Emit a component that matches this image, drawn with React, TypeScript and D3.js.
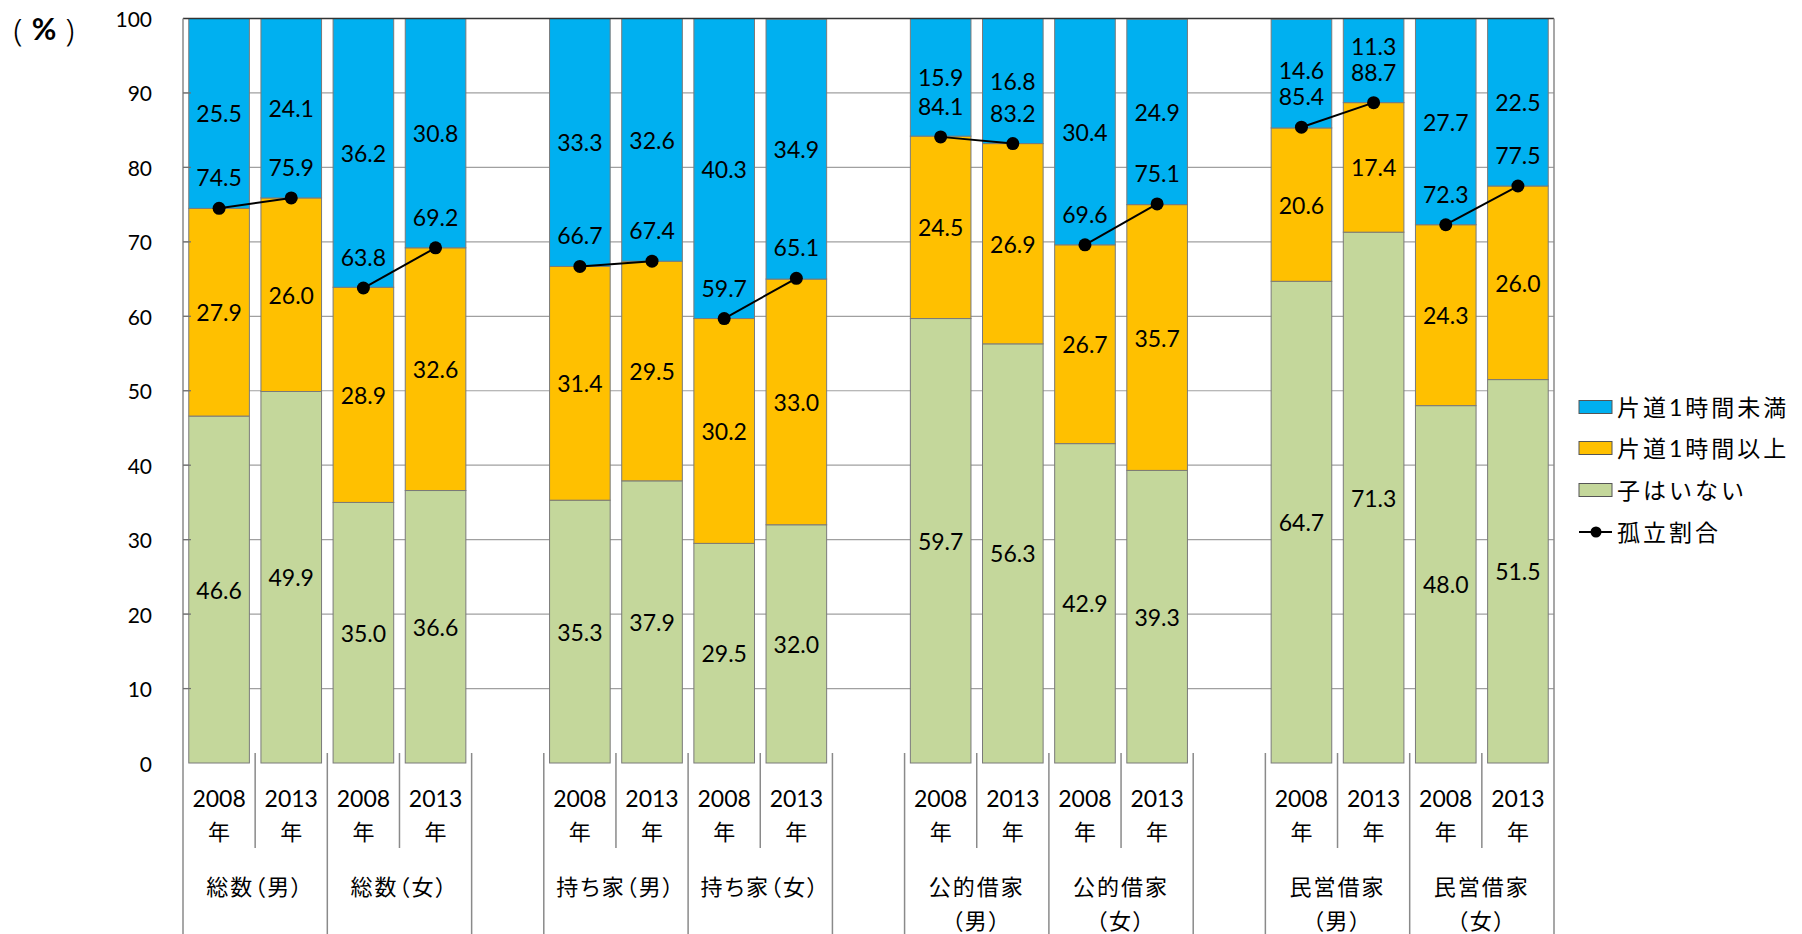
import React from "react";
import * as d3 from "d3";

const housingTypes = ["総数", "持ち家", "公的借家", "民営借家"];
const groupLabels: string[][] = [
  ["総数（男）"], ["総数（女）"], ["持ち家（男）"], ["持ち家（女）"],
  ["公的借家", "（男）"], ["公的借家", "（女）"], ["民営借家", "（男）"], ["民営借家", "（女）"],
];
const years = ["2008", "2013"];
const noChild = [46.6, 49.9, 35.0, 36.6, 35.3, 37.9, 29.5, 32.0, 59.7, 56.3, 42.9, 39.3, 64.7, 71.3, 48.0, 51.5];
const overHour = [27.9, 26.0, 28.9, 32.6, 31.4, 29.5, 30.2, 33.0, 24.5, 26.9, 26.7, 35.7, 20.6, 17.4, 24.3, 26.0];
const underHour = [25.5, 24.1, 36.2, 30.8, 33.3, 32.6, 40.3, 34.9, 15.9, 16.8, 30.4, 24.9, 14.6, 11.3, 27.7, 22.5];
const isolation = [74.5, 75.9, 63.8, 69.2, 66.7, 67.4, 59.7, 65.1, 84.1, 83.2, 69.6, 75.1, 85.4, 88.7, 72.3, 77.5];
const yTicks = [0, 10, 20, 30, 40, 50, 60, 70, 80, 90, 100];
const seriesKeys = ["noChild", "overHour", "underHour"];
const seriesNames: Record<string, string> = { underHour: "片道1時間未満", overHour: "片道1時間以上", noChild: "子はいない" };
const lineName = "孤立割合";
const colors: Record<string, string> = { underHour: "#00B0F0", overHour: "#FFC000", noChild: "#C4D79B" };

const W = 1802, H = 934;
const PL = 183, PR = 1554, PT = 18.5, PB = 763;
const NUM = "Lato, 'Noto Sans CJK JP', sans-serif";
const CJK = "'Noto Sans CJK JP', sans-serif";
const LINE_LABEL_OFFSET = 31;

export default function App() {
  const nBars = noChild.length;
  const slots: string[] = [];
  housingTypes.forEach((_, h) => {
    for (let j = 0; j < 4; j++) slots.push("b" + (h * 4 + j));
    if (h < housingTypes.length - 1) slots.push("s" + h);
  });
  const x = d3.scaleBand<string>().domain(slots).range([PL, PR]).paddingInner(0).paddingOuter(0);
  const bw = x.bandwidth();
  const barW = bw * 0.84;
  const y = d3.scaleLinear().domain([0, 100]).range([PB, PT]);

  const rows = d3.range(nBars).map((i) => ({ noChild: noChild[i], overHour: overHour[i], underHour: underHour[i] }));
  const stacked = d3.stack<any>().keys(seriesKeys)(rows);
  const cx = (i: number) => (x("b" + i) as number) + bw / 2;

  const line = d3.line<number>().x((i) => cx(i)).y((i) => y(isolation[i]));

  const boundaries = d3.range(slots.length + 1).map((k) => {
    const bx = PL + k * bw;
    const left = slots[k - 1], right = slots[k];
    let short = false;
    if (left && right && left[0] === "b" && right[0] === "b") {
      const li = +left.slice(1), ri = +right.slice(1);
      if (Math.floor(li / 2) === Math.floor(ri / 2)) short = true;
    }
    return { bx, short, edge: k === 0 || k === slots.length };
  });

  const labelY = (key: string, d: any, i: number) => {
    const c = y((d[0] + Math.min(d[1], 100)) / 2);
    if (key === "underHour") {
      const ll = y(isolation[i]) - LINE_LABEL_OFFSET;
      return Math.min(c, ll - 26);
    }
    return c;
  };

  const legendItems = ["underHour", "overHour", "noChild"];
  const legendY = [407, 448, 490];

  return (
    <svg width={W} height={H} style={{ position: "absolute", left: 0, top: 0, background: "#fff" }}>
      <rect x={0} y={0} width={W} height={H} fill="#fff" />
      {yTicks.filter((t) => t > 0 && t < 100).map((t) => (
        <line key={t} x1={PL} x2={PR} y1={y(t)} y2={y(t)} stroke="#a0a0a0" strokeWidth={1.2} />
      ))}
      {yTicks.map((t) => (
        <text key={"yl" + t} x={152} y={y(t)} textAnchor="end" dominantBaseline="central" fontFamily={NUM} fontSize={21} fill="#000">{t}</text>
      ))}
      <text y={28} dominantBaseline="central" fontSize={32} fill="#000" textAnchor="middle">
        <tspan x={18} fontFamily="'Noto Sans', sans-serif" fontWeight={300}>(</tspan>
        <tspan x={44} fontFamily={NUM} fontWeight="bold" fontSize={30}>%</tspan>
        <tspan x={70} fontFamily="'Noto Sans', sans-serif" fontWeight={300}>)</tspan>
      </text>
      {stacked.map((s) => (
        <g key={s.key}>
          {s.map((d, i) => (
            <rect key={i} x={cx(i) - barW / 2} width={barW} y={y(Math.min(d[1], 100))} height={y(d[0]) - y(Math.min(d[1], 100))}
              fill={colors[s.key]} stroke="#7a7a7a" strokeWidth={1} />
          ))}
        </g>
      ))}
      {stacked.map((s) => (
        <g key={"l" + s.key}>
          {s.map((d, i) => (
            <text key={i} x={cx(i)} y={labelY(s.key, d, i)} textAnchor="middle" dominantBaseline="central"
              fontFamily={NUM} fontSize={23} fill="#000">{(d[1] - d[0]).toFixed(1)}</text>
          ))}
        </g>
      ))}
      {d3.range(nBars / 2).map((g) => (
        <path key={"ln" + g} d={line([2 * g, 2 * g + 1]) || ""} fill="none" stroke="#000" strokeWidth={2} />
      ))}
      {isolation.map((v, i) => (
        <g key={"pt" + i}>
          <circle cx={cx(i)} cy={y(v)} r={6.5} fill="#000" />
          <text x={cx(i)} y={y(v) - LINE_LABEL_OFFSET} textAnchor="middle" dominantBaseline="central" fontFamily={NUM} fontSize={23} fill="#000">{v.toFixed(1)}</text>
        </g>
      ))}
      <line x1={PL} x2={PR} y1={PT} y2={PT} stroke="#333" strokeWidth={1.5} />
      {boundaries.map((b, k) => (
        <line key={"bd" + k} x1={b.bx} x2={b.bx} y1={b.edge ? PT : 753} y2={b.short ? 848 : H} stroke="#8a8a8a" strokeWidth={1.5} />
      ))}
      {yTicks.filter((t) => t > 0 && t < 100).map((t) => (
        <line key={"yt" + t} x1={PL} x2={PL + 8} y1={y(t)} y2={y(t)} stroke="#707070" strokeWidth={1.2} />
      ))}
      {d3.range(nBars).map((i) => (
        <g key={"yr" + i}>
          <text x={cx(i)} y={798} textAnchor="middle" dominantBaseline="central" fontFamily={NUM} fontSize={23} fill="#000">{years[i % 2]}</text>
          <text x={cx(i)} y={830} textAnchor="middle" dominantBaseline="central" fontFamily={CJK} fontSize={22} fill="#000">年</text>
        </g>
      ))}
      {groupLabels.map((lines, g) => {
        const gx = (cx(2 * g) + cx(2 * g + 1)) / 2;
        return lines.map((t, j) => (
          <text key={"gl" + g + "-" + j} x={gx} y={885 + j * 34} textAnchor="middle" dominantBaseline="central"
            fontFamily={CJK} fontSize={22} letterSpacing={2} style={{ fontFeatureSettings: '"palt"' }} fill="#000">{t}</text>
        ));
      })}
      {legendItems.map((k, j) => (
        <g key={"lg" + k}>
          <rect x={1579} y={legendY[j] - 6.5} width={33} height={13} fill={colors[k]} stroke="#555" strokeWidth={1} />
          <text x={1617} y={legendY[j]} dominantBaseline="central" fontFamily={NUM} fontSize={23} letterSpacing={3} fill="#000">{seriesNames[k]}</text>
        </g>
      ))}
      <line x1={1579} x2={1612} y1={532} y2={532} stroke="#000" strokeWidth={2} />
      <circle cx={1596} cy={532} r={5.5} fill="#000" />
      <text x={1617} y={532} dominantBaseline="central" fontFamily={NUM} fontSize={23} letterSpacing={3} fill="#000">{lineName}</text>
    </svg>
  );
}
